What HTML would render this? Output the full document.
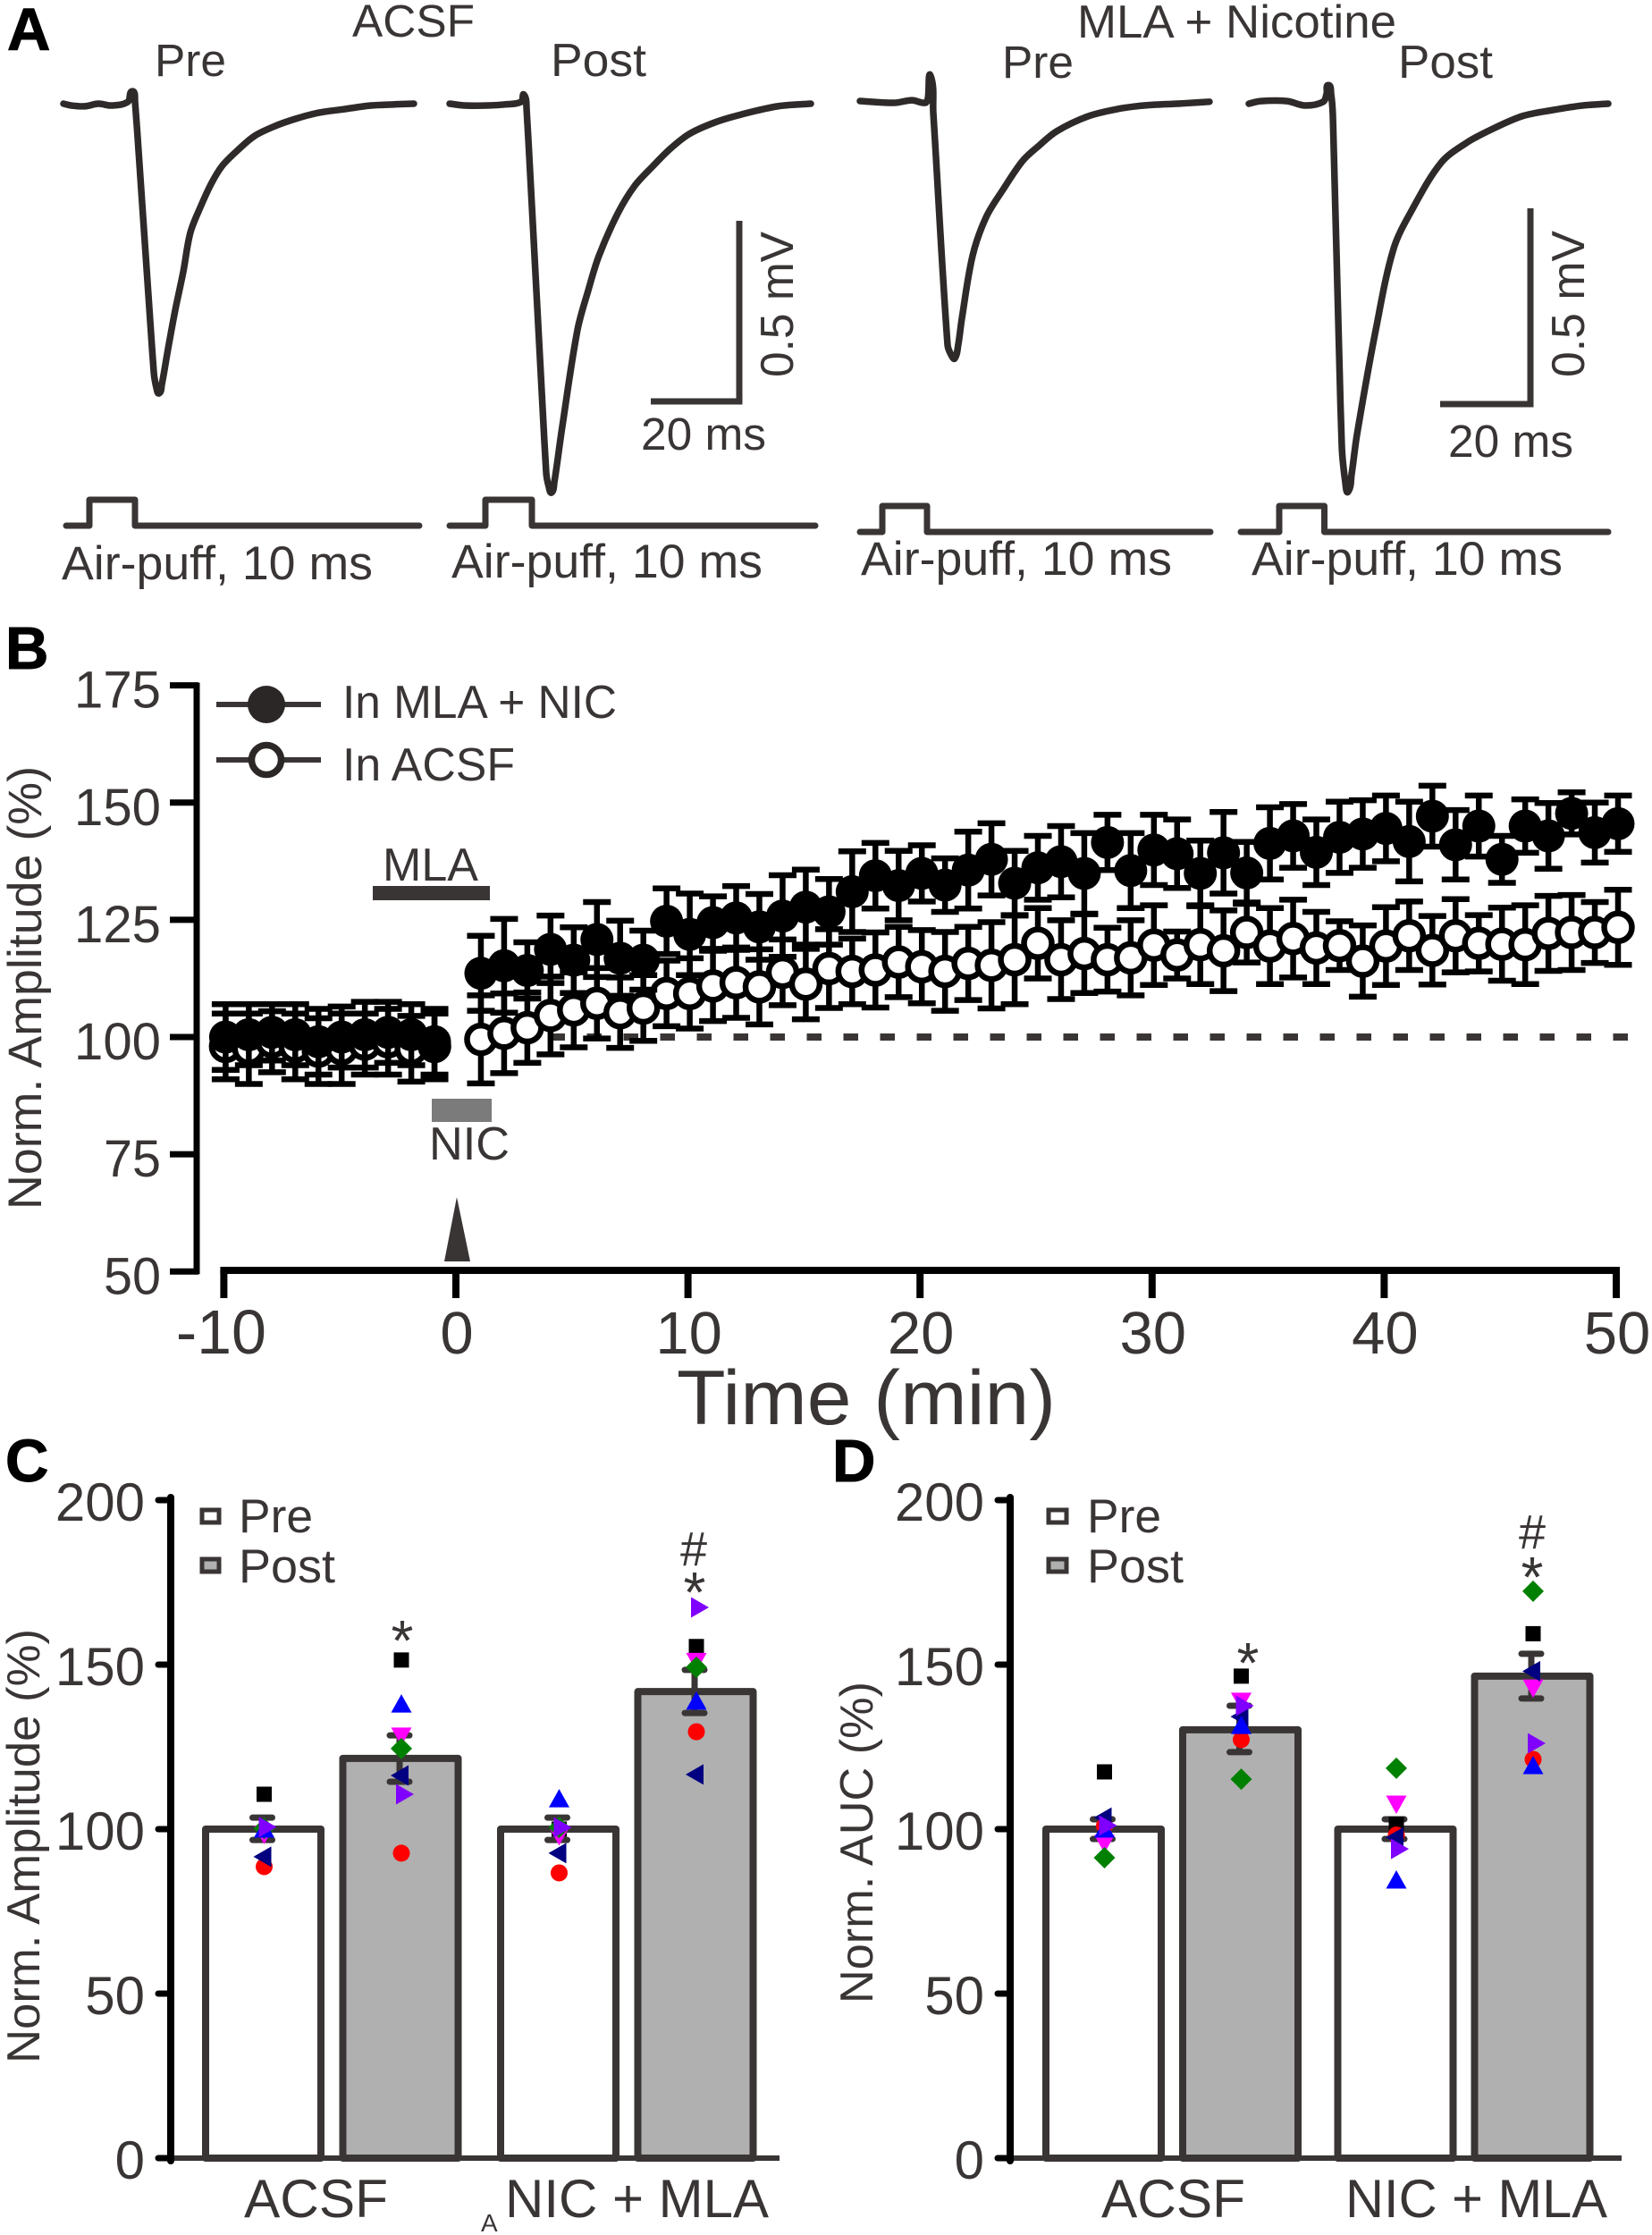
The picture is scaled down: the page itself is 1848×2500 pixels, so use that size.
<!DOCTYPE html>
<html lang="en">
<head>
<meta charset="utf-8">
<title>Norm. amplitude and AUC, ACSF vs MLA + Nicotine</title>
<style>
html,body{margin:0;padding:0;background:#fff;}
svg{display:block;}
text{font-family:"Liberation Sans",Arial,sans-serif;fill:#3a3535;}
.pl{font-weight:bold;fill:#000;font-size:67px;stroke:#000;stroke-width:1;}
</style>
</head>
<body>
<svg id="fig" xmlns="http://www.w3.org/2000/svg" width="1848" height="2500" viewBox="0 0 1848 2500">
<rect x="0" y="0" width="1848" height="2500" fill="#fff"/>

<g id="panelA">
<text class="pl" x="8" y="56">A</text>
<text x="394" y="41" font-size="51" textLength="137" lengthAdjust="spacingAndGlyphs">ACSF</text>
<text x="1205" y="42" font-size="52" textLength="357" lengthAdjust="spacingAndGlyphs">MLA + Nicotine</text>
<text x="173" y="85" font-size="51" textLength="80" lengthAdjust="spacingAndGlyphs">Pre</text>
<text x="616" y="85" font-size="52" textLength="107" lengthAdjust="spacingAndGlyphs">Post</text>
<text x="1121" y="87" font-size="51" textLength="80" lengthAdjust="spacingAndGlyphs">Pre</text>
<text x="1564" y="87" font-size="52" textLength="106" lengthAdjust="spacingAndGlyphs">Post</text>
<text x="69" y="648" font-size="53" textLength="348" lengthAdjust="spacingAndGlyphs">Air-puff, 10 ms</text>
<text x="505" y="646" font-size="53" textLength="348" lengthAdjust="spacingAndGlyphs">Air-puff, 10 ms</text>
<text x="963" y="643" font-size="53" textLength="348" lengthAdjust="spacingAndGlyphs">Air-puff, 10 ms</text>
<text x="1400" y="643" font-size="53" textLength="348" lengthAdjust="spacingAndGlyphs">Air-puff, 10 ms</text>
<path d="M728 449H827V247" fill="none" stroke="#3a3535" stroke-width="7"/>
<path d="M1611 452H1712V233" fill="none" stroke="#3a3535" stroke-width="7"/>
<text x="717" y="503" font-size="51" textLength="140" lengthAdjust="spacingAndGlyphs">20 ms</text>
<text x="1620" y="511" font-size="51" textLength="140" lengthAdjust="spacingAndGlyphs">20 ms</text>
<text transform="translate(887 422) rotate(-90)" font-size="52" textLength="163" lengthAdjust="spacingAndGlyphs">0.5 mV</text>
<text transform="translate(1772 422) rotate(-90)" font-size="52" textLength="164" lengthAdjust="spacingAndGlyphs">0.5 mV</text>
</g>

<g id="panelB">
<text class="pl" x="6" y="748">B</text>
<text transform="translate(46 1353) rotate(-90)" font-size="53" textLength="496" lengthAdjust="spacingAndGlyphs">Norm. Amplitude (%)</text>
<text x="757" y="1593" font-size="86" textLength="424" lengthAdjust="spacingAndGlyphs">Time (min)</text>
<rect x="417" y="991" width="131" height="16" fill="#3a3535"/>
<text x="428" y="985" font-size="52" textLength="107" lengthAdjust="spacingAndGlyphs">MLA</text>
<rect x="483" y="1229" width="67" height="26" fill="#7b7b7b"/>
<text x="480" y="1297" font-size="52" textLength="90" lengthAdjust="spacingAndGlyphs">NIC</text>
<polygon points="511,1339 526,1411 497,1411" fill="#3a3535"/>
<line x1="242" y1="788" x2="359" y2="788" stroke="#3a3535" stroke-width="6"/>
<line x1="242" y1="850" x2="359" y2="850" stroke="#3a3535" stroke-width="6"/>
<circle cx="298" cy="788" r="21" fill="#2c2727"/>
<circle cx="298" cy="850" r="16.5" fill="#fff" stroke="#2c2727" stroke-width="7.5"/>
<text x="383" y="803" font-size="52" textLength="307" lengthAdjust="spacingAndGlyphs">In MLA + NIC</text>
<text x="383" y="873" font-size="52" textLength="193" lengthAdjust="spacingAndGlyphs">In ACSF</text>
</g>

<g id="panelC">
<text class="pl" x="6" y="1657">C</text>
<text transform="translate(44 2308) rotate(-90)" font-size="52" textLength="486" lengthAdjust="spacingAndGlyphs">Norm. Amplitude (%)</text>
<rect x="226" y="1689" width="19" height="14" fill="#fff" stroke="#3a3535" stroke-width="5"/>
<rect x="226" y="1744" width="19" height="14" fill="#b0b0b0" stroke="#3a3535" stroke-width="5"/>
<text x="267" y="1714" font-size="53" textLength="83" lengthAdjust="spacingAndGlyphs">Pre</text>
<text x="267" y="1770" font-size="53" textLength="108" lengthAdjust="spacingAndGlyphs">Post</text>
<text x="273" y="2480" font-size="60" textLength="161" lengthAdjust="spacingAndGlyphs">ACSF</text>
<text x="565" y="2480" font-size="60" textLength="295" lengthAdjust="spacingAndGlyphs">NIC + MLA</text>
<text x="538" y="2496" font-size="28">A</text>
</g>

<g id="panelD">
<text class="pl" x="931" y="1657">D</text>
<text transform="translate(976 2241) rotate(-90)" font-size="52" textLength="360" lengthAdjust="spacingAndGlyphs">Norm. AUC (%)</text>
<rect x="1173" y="1689" width="20" height="14" fill="#fff" stroke="#3a3535" stroke-width="5"/>
<rect x="1173" y="1744" width="20" height="14" fill="#b0b0b0" stroke="#3a3535" stroke-width="5"/>
<text x="1216" y="1714" font-size="53" textLength="83" lengthAdjust="spacingAndGlyphs">Pre</text>
<text x="1216" y="1770" font-size="53" textLength="108" lengthAdjust="spacingAndGlyphs">Post</text>
<text x="1232" y="2480" font-size="60" textLength="161" lengthAdjust="spacingAndGlyphs">ACSF</text>
<text x="1505" y="2480" font-size="60" textLength="293" lengthAdjust="spacingAndGlyphs">NIC + MLA</text>
</g>
</svg>

<script>
/* ---------- Panel A: recordings (ms, mV relative to the trace start) ---------- */
const trace1Ms=[0,1.8,4.8,7.8,10.8,14.4,15.4,16,20.2,20.8,21.4,22,23.4,25,26.8,28.4,30.8,33.2,35.6,39.2,42.8,47.4,51.8,57,62.8,68.8,73.8,78.4];
const trace1MV=[0,-.005,-.007,0,-.005,.005,.034,.007,-.735,-.779,-.794,-.77,-.672,-.566,-.461,-.353,-.279,-.216,-.169,-.125,-.088,-.061,-.042,-.025,-.015,-.005,-.002,0];
const trace2Ms=[0,3.4,8.4,12.4,16,16.6,17.2,21.6,22.2,22.8,23.4,25.2,28.6,31,33.4,37.6,41.4,45.4,49.4,53.6,59.4,65.4,73.4,80.8];
const trace2MV=[0,-.005,-.005,-.002,.005,.025,-.012,-1.012,-1.051,-1.066,-1.039,-.885,-.62,-.512,-.417,-.301,-.225,-.172,-.123,-.083,-.051,-.029,-.007,0];
const trace3Ms=[0,7.6,11.6,14.6,15.2,15.8,16.4,19.6,20.4,21.2,22,22.8,25.2,28.2,32,36.4,40,44,51,57.6,63.8,71.6,78.2];
const trace3MV=[0,-.005,.002,-.005,.007,.069,-.032,-.669,-.696,-.706,-.667,-.596,-.424,-.319,-.243,-.164,-.123,-.083,-.042,-.022,-.012,-.007,-.002];
const trace4Ms=[0,2.6,8.6,12.6,16.6,17.4,17.8,18.4,18.8,20.8,21.6,22.2,23,24.2,28.4,32.4,36.6,43,48.6,54.2,61.2,68.2,74.6,80.4];
const trace4MV=[0,.007,.007,-.005,.005,.027,.051,.027,-.034,-.939,-1.039,-1.064,-1.015,-.907,-.62,-.397,-.289,-.162,-.108,-.071,-.034,-.017,-.005,0];
const stim1Ms=[0,5.2,15.4,79];
const stim2Ms=[0,8,18.4,81.8];
const stim3Ms=[0,5,15,78.4];
const stim4Ms=[0,8.6,18.7,82.2];

/* ---------- Panel B: time course ---------- */
const timeMin=[-10,-9,-8,-7,-6,-5,-4,-3,-2,-1,1,2,3,4,5,6,7,8,9,10,11,12,13,14,15,16,17,18,19,20,21,22,23,24,25,26,27,28,29,30,31,32,33,34,35,36,37,38,39,40,41,42,43,44,45,46,47,48,49,50];
const mlaNicMean=[100,100.5,101,100.5,99,100,100.5,101,100.5,99,113.6,115.2,114.2,118.7,116.4,120.8,116.8,116.4,124.7,121.9,124.4,125.4,123.5,125.8,127.7,126.7,131,134.4,132.3,134.9,132.4,135.6,137.9,132.8,136.1,137.4,134.9,141.5,135.5,139.9,139.1,134.9,139.3,135,141.3,142.9,139.4,142.6,143.3,144.5,141.7,147.1,141,145,137.9,145,142.9,147.7,143.6,145.5];
const mlaNicErr=[7,6.5,6,6.5,7,6.5,7,6.5,6.5,7,8,10,6,7.2,7,8,8,6.3,7,8.7,5.6,6.8,7,8.7,8,7,8.6,7,7.4,6,5.7,8.2,7.7,6.9,6.8,7.6,8.6,5.9,8,7.5,7.3,7,8.7,6.6,7.7,6.8,7,7.6,7.2,7,8.5,6.5,7.4,6.5,5,5.7,7,4.5,6.4,6];
const acsfMean=[98,97.5,99,98,97,97.5,98.5,99,97.5,98,99.5,100.8,102,104.6,105.8,107.2,105.2,106.2,109.3,109.3,110.9,111.6,110.7,113.8,111.3,114.6,114,114.3,116,115,114,115.7,115.3,116.5,120,116.5,117.8,116.5,116.9,119.6,117.5,119.7,118.4,122.3,119.4,121,119,119.5,116.2,119.4,121.6,118.5,121.6,120,119.8,119.7,122.1,122.3,122.3,123.4];
const acsfErr=[7,7.5,6.5,7,7,7.5,6.5,7,7,7,9.4,8.5,7.5,8.3,8,7.5,7.5,7,7,7.5,7.5,7.5,8,7,7.5,8.4,7,8,7.5,7.8,8.4,7.8,9.2,9.5,7.5,8.4,8.4,6.8,8,8.5,5,8.4,8.6,6.4,8.1,8.3,7.7,5.2,7.6,8.3,7.3,7.3,7.8,6,7.8,8.4,8,8,6.5,8];
const bYTicks=[50,75,100,125,150,175];
const bXTicks=[-10,0,10,20,30,40,50];
const bReference=100;

/* ---------- Panel C: amplitude ---------- */
const groupNames=['ACSF Pre','ACSF Post','NIC + MLA Pre','NIC + MLA Post'];
const barTicks=[0,50,100,150,200];
const cMean=[100,121.5,100,141.8];
const cErrHigh=[103.5,128.5,103.5,148.4];
const cErrLow=[96.7,114.4,96.7,135.3];
const cBlack=[110.6,151.4,100,155.5];
const cRed=[88.6,92.7,86.7,129.6];
const cMagenta=[98.4,128.3,98,151];
const cGreen=[100.2,124.5,100.5,149.2];
const cNavy=[91.6,116.3,92.7,116.6];
const cBlue=[100,138,109.2,138.9];
const cPurple=[100.6,110.6,100.5,167.4];

/* ---------- Panel D: AUC ---------- */
const dMean=[100,130.2,100,146.5];
const dErrHigh=[103,137.5,103,153.3];
const dErrLow=[97,123.4,97,139.7];
const dBlack=[117.4,146.5,101.5,159.4];
const dRed=[101,127.2,98.2,121.2];
const dMagenta=[95.7,138.9,107.6,142.9];
const dGreen=[91.3,115.2,118.5,172.3];
const dNavy=[103.5,134.2,97.5,148];
const dBlue=[100,131.5,84.5,119.3];
const dPurple=[101.1,137.5,94,126.1];

const NS='http://www.w3.org/2000/svg';
const INK='#3a3535';
function mk(parent,tag,attrs,txt){
  const el=document.createElementNS(NS,tag);
  for(const k in attrs){el.setAttribute(k,attrs[k]);}
  if(txt!==undefined){el.textContent=txt;}
  parent.appendChild(el);
  return el;
}

/* ===== Panel A marks ===== */
const panelA=document.getElementById('panelA');
function smoothPath(px,py){
  const n=px.length;
  function dir(i){
    const a=Math.max(i-1,0), b=Math.min(i+1,n-1);
    const dx=px[b]-px[a], dy=py[b]-py[a];
    const l=Math.hypot(dx,dy)||1;
    return [dx/l,dy/l];
  }
  let d='M'+px[0]+' '+py[0];
  for(let i=0;i<n-1;i++){
    const len=Math.hypot(px[i+1]-px[i],py[i+1]-py[i])/3;
    const a=dir(i), b=dir(i+1);
    d+='C'+(px[i]+a[0]*len)+' '+(py[i]+a[1]*len)+' '+(px[i+1]-b[0]*len)+' '+(py[i+1]-b[1]*len)+' '+px[i+1]+' '+py[i+1];
  }
  return d;
}
function drawTrace(ms,mv,x0,y0){
  const px=ms.map(function(t){return x0+t*5;});
  const py=mv.map(function(v){return y0-v*408;});
  const el=mk(panelA,'path',{d:smoothPath(px,py),fill:'none',stroke:'#2f2a2a','stroke-width':7.5,'stroke-linejoin':'round','stroke-linecap':'round'});
  
  
}
function drawStim(ms,x0,yBase){
  const d='M'+(x0+ms[0]*5)+' '+yBase+'H'+(x0+ms[1]*5)+'V'+(yBase-29)+'H'+(x0+ms[2]*5)+'V'+yBase+'H'+(x0+ms[3]*5);
  const el=mk(panelA,'path',{d:d,fill:'none',stroke:INK,'stroke-width':7,'stroke-linejoin':'round','stroke-linecap':'round'});
  
  
}
drawTrace(trace1Ms,trace1MV,71,116);
drawTrace(trace2Ms,trace2MV,503,116);
drawTrace(trace3Ms,trace3MV,962,113);
drawTrace(trace4Ms,trace4MV,1397,116);
drawStim(stim1Ms,74,588);
drawStim(stim2Ms,503,588);
drawStim(stim3Ms,962,595);
drawStim(stim4Ms,1388,595);

/* ===== Panel B marks ===== */
const panelB=document.getElementById('panelB');
function bAxisX(t){return 510+t*25.96;}
function bPointX(t){return 512+t*25.96;}
function bY(v){return 1160-(v-100)*5.245;}

(function(){
  const yAxis=mk(panelB,'line',{x1:220,y1:bY(175)-3,x2:220,y2:bY(50)+3,stroke:'#000','stroke-width':7});
  
  
  bYTicks.forEach(function(v){
    const t=mk(panelB,'line',{x1:190,y1:bY(v),x2:222,y2:bY(v),stroke:'#000','stroke-width':7});
    
    
    const l=mk(panelB,'text',{x:180,y:bY(v)+25,'font-size':58,'text-anchor':'end',textLength:97,lengthAdjust:'spacingAndGlyphs'},String(v));
    if(v===50||v===75){l.setAttribute('textLength',64);}
    
    
  });
  const xAxis=mk(panelB,'line',{x1:bAxisX(-10)-4,y1:1421,x2:bAxisX(50)+4,y2:1421,stroke:'#000','stroke-width':8});
  
  
  bXTicks.forEach(function(v){
    const t=mk(panelB,'line',{x1:bAxisX(v),y1:1421,x2:bAxisX(v),y2:1452,stroke:'#000','stroke-width':8});
    
    
    const l=mk(panelB,'text',{x:bAxisX(v)+(v<0?-3:1),y:1514,'font-size':v<0?70:67,'text-anchor':'middle'},String(v));
    
    
  });
  const ref=mk(panelB,'line',{x1:533.5,y1:bY(bReference),x2:1821,y2:bY(bReference),stroke:INK,'stroke-width':8,'stroke-dasharray':'16.5 24.5'});
  
  

  function drawSeries(means,errs,hollow){
    means.forEach(function(v,i){
      const x=bPointX(timeMin[i]);
      const hi=bY(v+errs[i]), lo=bY(v-errs[i]);
      const e=mk(panelB,'path',{d:'M'+(x-15.5)+' '+hi+'H'+(x+15.5)+'M'+x+' '+hi+'V'+lo+'M'+(x-15.5)+' '+lo+'H'+(x+15.5),fill:'none',stroke:'#000','stroke-width':6.5});
      
      
    });
    means.forEach(function(v,i){
      const x=bPointX(timeMin[i]);
      const c=mk(panelB,'circle',hollow?{cx:x,cy:bY(v),r:15.5,fill:'#fff',stroke:'#000','stroke-width':6.5}:{cx:x,cy:bY(v),r:18.5,fill:'#000'});
      
      
    });
  }
  drawSeries(acsfMean,acsfErr,true);
  drawSeries(mlaNicMean,mlaNicErr,false);
})();

/* ===== Panels C and D marks ===== */
function barY(v){return 2414-v*3.68;}
function marker(parent,shape,color,cx,v){
  const y=barY(v);
  let el;
  if(shape==='square'){el=mk(parent,'rect',{x:cx-8.5,y:y-8.5,width:17,height:17,fill:color});}
  else if(shape==='circle'){el=mk(parent,'circle',{cx:cx,cy:y,r:9.5,fill:color});}
  else if(shape==='diamond'){el=mk(parent,'polygon',{points:cx+','+(y-12)+' '+(cx+12)+','+y+' '+cx+','+(y+12)+' '+(cx-12)+','+y,fill:color});}
  else if(shape==='up'){el=mk(parent,'polygon',{points:cx+','+(y-11)+' '+(cx+11.5)+','+(y+9.5)+' '+(cx-11.5)+','+(y+9.5),fill:color});}
  else if(shape==='down'){el=mk(parent,'polygon',{points:cx+','+(y+11)+' '+(cx+11.5)+','+(y-9.5)+' '+(cx-11.5)+','+(y-9.5),fill:color});}
  else if(shape==='left'){el=mk(parent,'polygon',{points:(cx-12)+','+y+' '+(cx+8)+','+(y-11.5)+' '+(cx+8)+','+(y+11.5),fill:color});}
  else {el=mk(parent,'polygon',{points:(cx+14)+','+y+' '+(cx-6)+','+(y-11.5)+' '+(cx-6)+','+(y+11.5),fill:color});}
  return el;
}
function drawBarPanel(parent,axisX,tickLeft,labelRight,axisEnd,start,step,extra,mean,hi,lo,series){
  function cx(i){return start+i*step+(i>=2?extra:0);}
  barTicks.forEach(function(v){
    const t=mk(parent,'line',{x1:tickLeft,y1:barY(v),x2:axisX,y2:barY(v),stroke:'#000','stroke-width':7,'stroke-linecap':'round'});
    
    
    const l=mk(parent,'text',{x:labelRight,y:barY(v)+23,'font-size':60,'text-anchor':'end'},String(v));
    
    
  });
  mean.forEach(function(v,i){
    const w=129;
    const b=mk(parent,'rect',{x:cx(i)-w/2,y:barY(v),width:w,height:barY(0)-barY(v),fill:i%2?'#b0b0b0':'#fff',stroke:INK,'stroke-width':8,'stroke-linejoin':'round'});
    
    
  });
  const xa=mk(parent,'line',{x1:axisX,y1:barY(0),x2:axisEnd,y2:barY(0),stroke:INK,'stroke-width':6});
  
  
  const ya=mk(parent,'line',{x1:axisX,y1:barY(200)-3,x2:axisX,y2:barY(0)+3,stroke:'#000','stroke-width':8,'stroke-linecap':'round'});
  
  
  mean.forEach(function(v,i){
    const x=cx(i)-1;
    const e=mk(parent,'path',{d:'M'+(x-11)+' '+barY(hi[i])+'H'+(x+11)+'M'+x+' '+barY(hi[i])+'V'+barY(lo[i])+'M'+(x-11)+' '+barY(lo[i])+'H'+(x+11),fill:'none',stroke:INK,'stroke-width':7,'stroke-linecap':'round'});
    
    
  });
  series.forEach(function(s){
    s.vals.forEach(function(v,i){
      const m=marker(parent,s.shape,s.color,cx(i)+1,v);
      
      
    });
  });
}
drawBarPanel(document.getElementById('panelC'),191,177,162,872,294.5,153.5,23,cMean,cErrHigh,cErrLow,[
  {name:'cell-square-black',shape:'square',color:'#000',vals:cBlack},
  {name:'cell-circle-red',shape:'circle',color:'#ff0000',vals:cRed},
  {name:'cell-triangle-down-magenta',shape:'down',color:'#ff00ff',vals:cMagenta},
  {name:'cell-diamond-green',shape:'diamond',color:'#008000',vals:cGreen},
  {name:'cell-triangle-left-navy',shape:'left',color:'#000080',vals:cNavy},
  {name:'cell-triangle-up-blue',shape:'up',color:'#0000ff',vals:cBlue},
  {name:'cell-triangle-right-purple',shape:'right',color:'#8000ff',vals:cPurple}
]);
drawBarPanel(document.getElementById('panelD'),1130,1116,1101,1814,1234.5,153,20.5,dMean,dErrHigh,dErrLow,[
  {name:'cell-square-black',shape:'square',color:'#000',vals:dBlack},
  {name:'cell-circle-red',shape:'circle',color:'#ff0000',vals:dRed},
  {name:'cell-triangle-down-magenta',shape:'down',color:'#ff00ff',vals:dMagenta},
  {name:'cell-diamond-green',shape:'diamond',color:'#008000',vals:dGreen},
  {name:'cell-triangle-left-navy',shape:'left',color:'#000080',vals:dNavy},
  {name:'cell-triangle-up-blue',shape:'up',color:'#0000ff',vals:dBlue},
  {name:'cell-triangle-right-purple',shape:'right',color:'#8000ff',vals:dPurple}
]);

/* significance marks */
(function(){
  const pc=document.getElementById('panelC'), pd=document.getElementById('panelD');
  function sig(parent,ch,x,y,size){
    const el=mk(parent,'text',{x:x,y:y,'font-size':size,'text-anchor':'middle'},ch);
    
    
  }
  sig(pc,'*',450,1857,64);
  sig(pc,'*',777,1803,64);
  sig(pc,'#',776,1751,54);
  sig(pd,'*',1396,1882,64);
  sig(pd,'*',1714,1786,64);
  sig(pd,'#',1714,1732,54);
})();
</script>
</body>
</html>
